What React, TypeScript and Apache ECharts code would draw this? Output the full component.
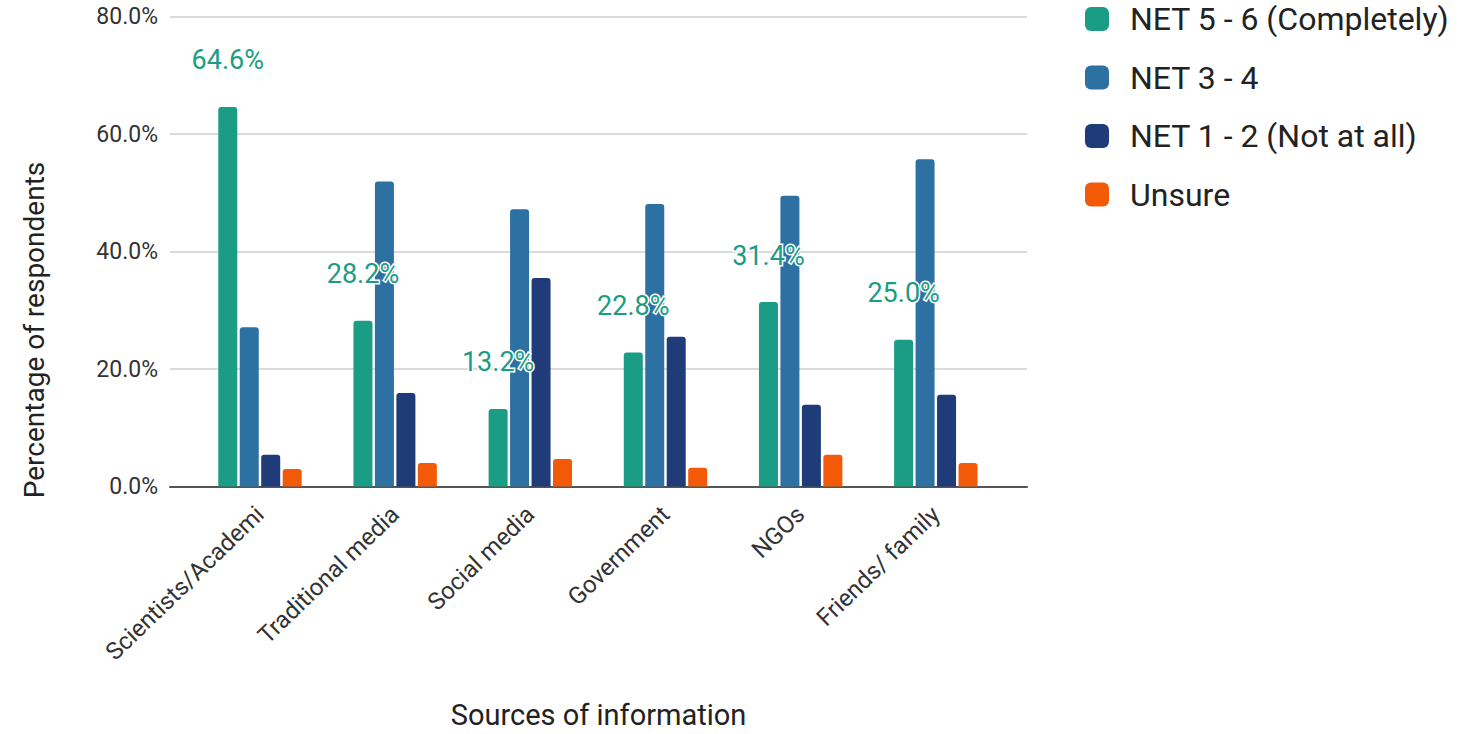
import React, { useEffect, useRef } from "react";
import * as echarts from "echarts";

const categories = ["Scientists/Academi", "Traditional media", "Social media", "Government", "NGOs", "Friends/ family"];
const seriesNames = ["NET 5 - 6 (Completely)", "NET 3 - 4", "NET 1 - 2 (Not at all)", "Unsure"];
const net56 = [64.6, 28.2, 13.2, 22.8, 31.4, 25.0];
const net34 = [27.1, 51.9, 47.2, 48.1, 49.5, 55.7];
const net12 = [5.4, 15.9, 35.5, 25.5, 13.9, 15.6];
const unsure = [3.0, 4.0, 4.7, 3.2, 5.4, 4.0];
const colors = ["#1b9c85", "#2d70a2", "#1f3b78", "#f25a08"];
const yTicks = { min: 0, max: 80, interval: 20 };

export default function App() {
  const ref = useRef<HTMLDivElement>(null);
  useEffect(() => {
    document.body.style.margin = "0";
    const chart = echarts.init(ref.current!, null, { renderer: "svg" });
    const font = "Roboto";
    const values = [net56, net34, net12, unsure];
    chart.setOption({
      animation: false,
      textStyle: { fontFamily: font },
      color: colors,
      legend: {
        orient: "vertical",
        left: 1080,
        top: -2,
        icon: "roundRect",
        itemWidth: 24,
        itemHeight: 24,
        itemGap: 26.5,
        data: seriesNames,
        textStyle: { fontSize: 32, color: "#222", fontFamily: font, padding: [0, 0, 0, 16] },
      },
      grid: [
        { left: 170, right: 443, top: 16.5, height: 470, outerBoundsMode: "none", containLabel: false },
        { left: 192.4, right: 466.6, top: 16.5, height: 470, outerBoundsMode: "none", containLabel: false },
      ],
      xAxis: [
        {
          type: "value",
          gridIndex: 0,
          min: 0,
          max: 1,
          axisLine: { show: true, lineStyle: { color: "#555", width: 2 } },
          axisTick: { show: false },
          axisLabel: { show: false },
          splitLine: { show: false },
          name: "Sources of information",
          nameLocation: "middle",
          nameGap: 213,
          nameTextStyle: { fontSize: 29, color: "#222", fontFamily: font, lineHeight: 30 },
        },
        {
          type: "category",
          gridIndex: 1,
          data: categories,
          axisLine: { show: false },
          axisTick: { show: false },
          axisLabel: { rotate: 44, fontSize: 24, color: "#333", margin: 24, fontFamily: font },
        },
      ],
      yAxis: [
        {
          type: "value",
          gridIndex: 0,
          ...yTicks,
          axisLine: { show: false },
          axisTick: { show: false },
          axisLabel: { fontSize: 23, color: "#333", margin: 12, fontFamily: font, formatter: (v: number) => v.toFixed(1) + "%" },
          splitLine: { lineStyle: { color: "#cfcfcf", width: 1.5 } },
        },
        {
          type: "value",
          gridIndex: 1,
          ...yTicks,
          show: false,
          splitLine: { show: false },
        },
      ],
      graphic: [
        {
          type: "text",
          x: 34,
          y: 330,
          rotation: Math.PI / 2,
          style: {
            text: "Percentage of respondents",
            fontSize: 28,
            fill: "#222",
            fontFamily: font,
            align: "center",
            verticalAlign: "middle",
          },
        },
      ],
      series: seriesNames.map((name, i) => ({
        name,
        type: "bar",
        xAxisIndex: 1,
        yAxisIndex: 1,
        data: values[i],
        barWidth: 19,
        barGap: "13%",
        itemStyle: { color: colors[i], borderRadius: [3, 3, 0, 0] },
        label:
          i === 0
            ? {
                show: true,
                position: "top",
                distance: 33,
                fontSize: 27,
                color: "#1b9c85",
                textBorderColor: "#fff",
                textBorderWidth: 3,
                fontFamily: font,
                formatter: (p: any) => p.value.toFixed(1) + "%",
              }
            : { show: false },
      })),
    });
    return () => chart.dispose();
  }, []);
  return <div ref={ref} style={{ width: 1470, height: 734 }} />;
}
